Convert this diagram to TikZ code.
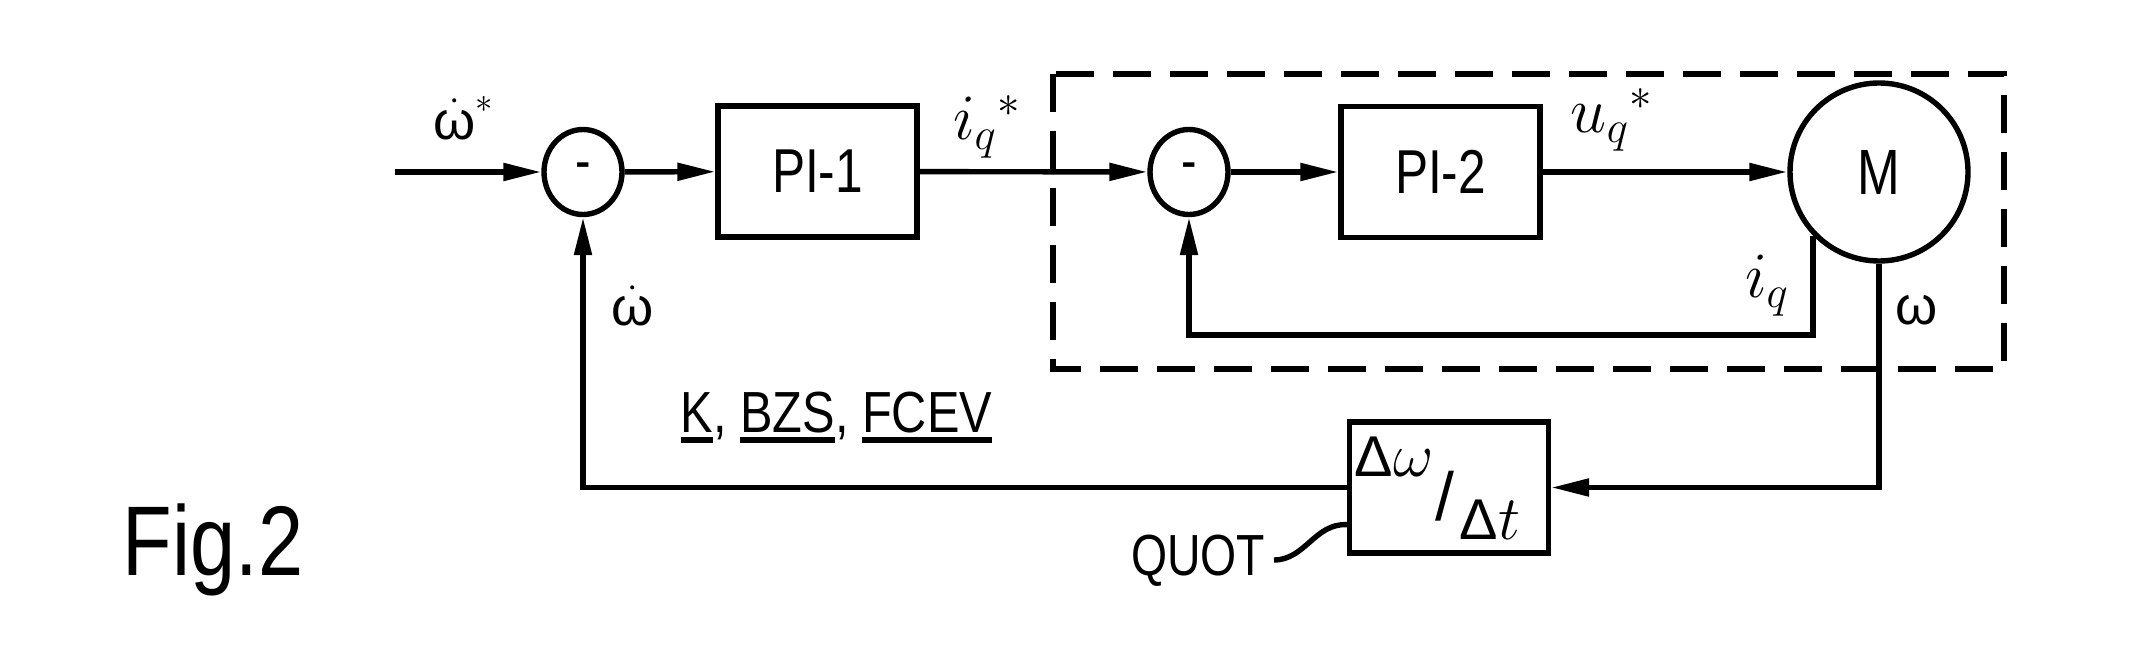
\documentclass[tikz,border=0pt]{standalone}
\usepackage{fontspec}
\setmainfont{Liberation Sans}
\newfontfamily\figfont[FakeStretch=0.82]{Liberation Sans}
\newfontfamily\condfont[FakeStretch=0.8]{Liberation Sans}
\newfontfamily\condfontb[FakeStretch=0.84]{Liberation Sans}
\usetikzlibrary{arrows.meta,shapes.geometric}
\newcommand\myul[1]{\setbox0=\hbox{#1}\rlap{\vrule height -2pt depth 5pt width \wd0}\box0}
\newcommand\mybigmath[1]{\scalebox{1.3}{#1}}
\begin{document}
\begin{tikzpicture}[x=0.5pt,y=-0.5pt,line width=2.7pt,
  blk/.style={draw,rectangle,minimum width=99.5pt,minimum height=65.5pt,inner sep=0pt,font=\condfont\fontsize{31}{34}\selectfont},
  sumnode/.style={draw,ellipse,minimum width=39pt,minimum height=42.5pt,inner sep=0pt,font=\condfont\fontsize{29}{32}\selectfont},
  motor/.style={draw,circle,minimum size=89pt,inner sep=0pt,font=\condfont\fontsize{32}{34}\selectfont},
  sig/.style={-{Triangle[length=19pt,width=8.5pt]}},
  lbl/.style={inner sep=0pt,font=\fontsize{23}{28}\selectfont},
  clbl/.style={inner sep=0pt,font=\condfont\fontsize{29}{32}\selectfont},
  dashbox/.style={dash pattern=on 19pt off 9.5pt}]
\useasboundingbox (0,0) rectangle (2136,646);
% dashed frame
\draw[dashbox] (1053,74) rectangle (2004,369);
% blocks
\node[sumnode] (s1) at (583,172) {-};
\node[blk] (pi1) at (817.5,171.5) {PI-1};
\node[sumnode] (s2) at (1189,172) {-};
\node[blk] (pi2) at (1440.5,172) {PI-2};
\node[motor] (m) at (1879,172) {M};
\node[blk] (dt) at (1449,487.5) {};
\coordinate (in) at (395,172);
\coordinate (fb) at (0,335);
% connectors
\draw[sig] (in) -- (s1);
\draw[sig] (s1) -- (pi1);
\draw[sig] (pi1) -- (s2);
\draw[sig] (s2) -- (pi2);
\draw[sig] (pi2) -- (m);
\draw[sig] (m.-136) -- (m.-136 |- fb) -| (s2.south);
\draw[sig] (m.south) -- (m.south |- dt) -- (dt.east);
\draw[sig] (dt.west) -| (s1.south);
% labels
\node[lbl,font=\fontsize{27}{30}\selectfont] (lw1) at (464,118) {$\dot{\hbox{ω}}^{*}$};
\node[lbl] (liq1) at (987,127) {\mybigmath{$i_{q}{}^{*}$}};
\node[lbl] (luq) at (1612,120) {\mybigmath{$u_{q}{}^{*}$}};
\node[lbl] (liq2) at (1767,286) {\mybigmath{$i_{q}$}};
\node[lbl,font=\fontsize{27}{30}\selectfont] (lw2) at (1917,310) {ω};
\node[lbl,font=\fontsize{27}{30}\selectfont] (lw3) at (633,306) {$\dot{\hbox{ω}}$};
\node[clbl,font=\condfontb\fontsize{29}{32}\selectfont,anchor=base west] (lk) at (678,433) {\myul{K}, \myul{BZS}, \myul{FCEV}};
% quotient block text
\node[lbl] (dw) at (1394,457) {\scalebox{1.25}{Δ$\omega$}};
\node[lbl,font=\fontsize{34}{34}\selectfont] (sl) at (1445,496) {/};
\node[lbl] (dtt) at (1490,520) {\scalebox{1.25}{Δ$t$}};
% QUOT
\node[clbl,anchor=base east] (quot) at (1268,575) {QUOT};
\coordinate (qs) at (1274,560);
\draw (qs) .. controls (1305,560) and (1315,523) .. (dt.-160);
% figure label
\node[inner sep=0pt,anchor=base west,font=\figfont\fontsize{49.5}{56}\selectfont] (fig) at (120,575) {Fig.2};
\end{tikzpicture}
\end{document}
